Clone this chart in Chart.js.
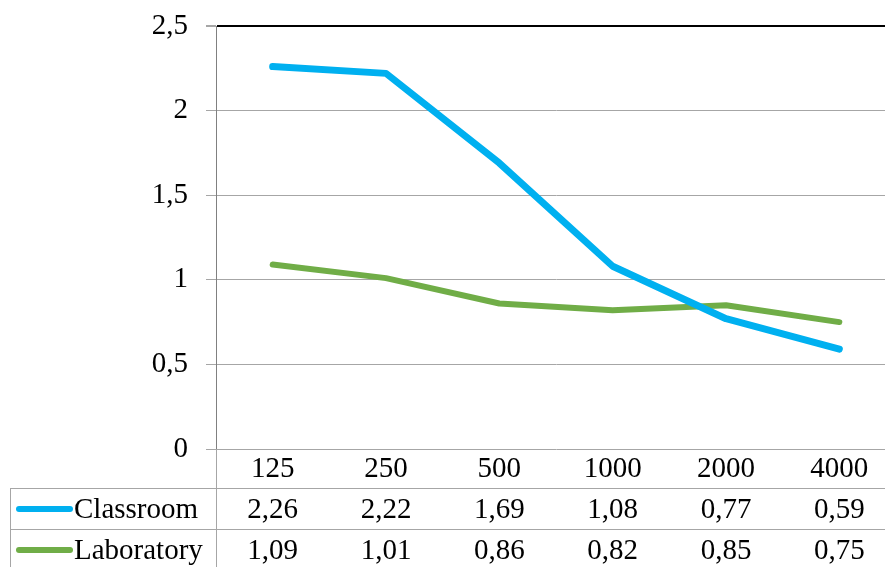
<!DOCTYPE html>
<html>
<head>
<meta charset="utf-8">
<script src="https://cdn.jsdelivr.net/npm/chart.js@4.4.0/dist/chart.umd.min.js"></script>
<style>
  html, body { margin: 0; padding: 0; background: #fff; overflow: hidden; }
  #wrap { width: 896px; height: 567px; }
</style>
</head>
<body>
<div id="wrap"><canvas id="chart" width="896" height="567"></canvas></div>
<script>
// Chart data
const categories = ["125", "250", "500", "1000", "2000", "4000"];
const classroom = [2.26, 2.22, 1.69, 1.08, 0.77, 0.59];
const laboratory = [1.09, 1.01, 0.86, 0.82, 0.85, 0.75];
const seriesNames = ["Classroom", "Laboratory"];
const seriesColors = ["#00B0F0", "#70AD47"];

const FONT = "'Liberation Serif', 'Times New Roman', serif";
const GRID = "#A6A6A6";

function fmt(v) {
  return String(v.toFixed(2)).replace(".", ",");
}

// Draws the data table under the x axis
const dataTablePlugin = {
  id: "dataTable",
  afterDraw(chart) {
    const ctx = chart.ctx;
    const x = chart.scales.x;
    const area = chart.chartArea;
    const rowTops = [area.bottom + 39, area.bottom + 80];
    const rowH = 40;
    const right = chart.width;

    ctx.save();
    ctx.strokeStyle = GRID;
    ctx.lineWidth = 1;
    ctx.beginPath();
    // horizontal row separators
    rowTops.forEach((t) => {
      ctx.moveTo(10, t + 0.5);
      ctx.lineTo(right, t + 0.5);
    });
    // left border + divider at axis
    ctx.moveTo(10.5, rowTops[0]);
    ctx.lineTo(10.5, chart.height);
    ctx.moveTo(area.left + 0.5, area.bottom);
    ctx.lineTo(area.left + 0.5, chart.height);
    ctx.stroke();

    const rows = [classroom, laboratory];
    ctx.font = "29px " + FONT;
    ctx.textBaseline = "middle";
    ctx.fillStyle = "#000";
    rows.forEach((vals, r) => {
      const cy = rowTops[r] + rowH / 2 + 2;
      // legend key
      ctx.strokeStyle = seriesColors[r];
      ctx.lineWidth = 6;
      ctx.lineCap = "round";
      ctx.beginPath();
      ctx.moveTo(19, cy - 1);
      ctx.lineTo(70, cy - 1);
      ctx.stroke();
      ctx.textAlign = "left";
      ctx.fillText(seriesNames[r], 74, cy);
      ctx.textAlign = "center";
      vals.forEach((v, i) => {
        ctx.fillText(fmt(v), x.getPixelForValue(i), cy);
      });
    });
    ctx.restore();
  },
};

new Chart(document.getElementById("chart"), {
  type: "line",
  data: {
    labels: categories,
    datasets: [
      {
        label: seriesNames[0],
        data: classroom,
        borderColor: seriesColors[0],
        borderWidth: 7,
        pointRadius: 0,
        borderCapStyle: "round",
        borderJoinStyle: "round",
        tension: 0,
      },
      {
        label: seriesNames[1],
        data: laboratory,
        borderColor: seriesColors[1],
        borderWidth: 6,
        pointRadius: 0,
        borderCapStyle: "round",
        borderJoinStyle: "round",
        tension: 0,
      },
    ],
  },
  options: {
    responsive: false,
    animation: false,
    events: [],
    layout: { padding: { top: 26, right: 0, left: 0, bottom: 0 } },
    plugins: {
      legend: { display: false },
      tooltip: { enabled: false },
    },
    scales: {
      x: {
        offset: true,
        grid: { display: false },
        border: { display: false },
        ticks: {
          color: "#000",
          font: { family: FONT, size: 29 },
          padding: -5,
          maxRotation: 0,
        },
        afterFit(scale) {
          scale.height = 118;
        },
      },
      y: {
        min: 0,
        max: 2.5,
        grid: {
          color: (c) => (c.tick && c.tick.value === 2.5 ? "#000" : GRID),
          lineWidth: (c) => (c.tick && c.tick.value === 2.5 ? 2 : 1),
          tickColor: GRID,
          tickLength: 10,
        },
        border: { color: "#808080", width: 1 },
        ticks: {
          stepSize: 0.5,
          color: "#000",
          font: { family: FONT, size: 29 },
          padding: 18,
          callback: (v) => String(v).replace(".", ","),
        },
        afterFit(scale) {
          scale.width = 216;
          scale.paddingTop = 0;
          scale.paddingBottom = 0;
        },
      },
    },
  },
  plugins: [dataTablePlugin],
});
</script>
</body>
</html>
